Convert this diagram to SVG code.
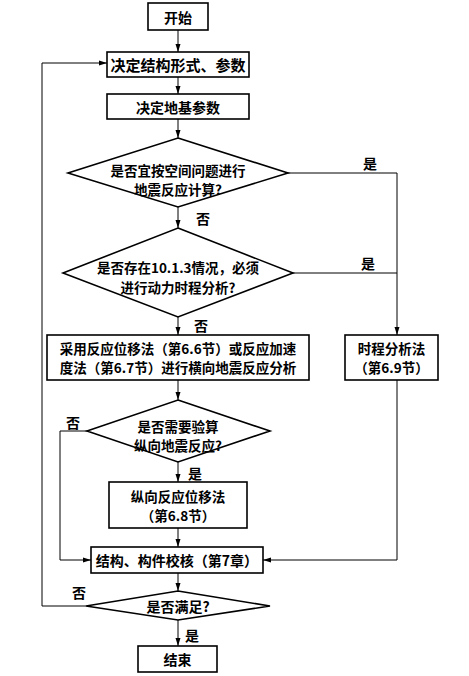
<svg xmlns="http://www.w3.org/2000/svg" width="469" height="676" viewBox="0 0 469 676">
<style>
.n{fill:#fff;stroke:#000;stroke-width:1.6}
.t{font-family:"Noto Sans CJK SC","Liberation Sans",sans-serif;font-size:14px;font-weight:bold;fill:#000;text-anchor:middle;dominant-baseline:central}
.s{font-size:13.5px}
.l{font-family:"Noto Sans CJK SC","Liberation Sans",sans-serif;font-size:14px;font-weight:bold;fill:#000;text-anchor:middle;dominant-baseline:central}
.c{fill:none;stroke:#000;stroke-width:1}
</style>
<defs>
<marker id="a" viewBox="0 0 8 6" refX="8" refY="3" markerWidth="8" markerHeight="6" markerUnits="userSpaceOnUse" orient="auto">
<path d="M0,0.5 L8,3 L0,5.5 Z" fill="#000"/>
</marker>
</defs>
<rect width="469" height="676" fill="#fff"/>
<g id="connectors">
<path class="c" d="M178,30 V52" marker-end="url(#a)"/>
<path class="c" d="M178,77 V94" marker-end="url(#a)"/>
<path class="c" d="M178,119 V138" marker-end="url(#a)"/>
<path class="c" d="M178,207 V228" marker-end="url(#a)"/>
<path class="c" d="M178,317 V335" marker-end="url(#a)"/>
<path class="c" d="M288,173 H397 V335" marker-end="url(#a)"/>
<path class="c" d="M293,273 H397"/>
<path class="c" d="M178,380 V400" marker-end="url(#a)"/>
<path class="c" d="M178,462 V482" marker-end="url(#a)"/>
<path class="c" d="M87,431 H60 V560 H91" marker-end="url(#a)"/>
<path class="c" d="M178,528 V547" marker-end="url(#a)"/>
<path class="c" d="M397,380 V560 H263" marker-end="url(#a)"/>
<path class="c" d="M178,573 V591" marker-end="url(#a)"/>
<path class="c" d="M86,606 H42 V63 H107" marker-end="url(#a)"/>
<path class="c" d="M178,620 V646" marker-end="url(#a)"/>
<text class="l" x="370" y="163">是</text>
<text class="l" x="203" y="218">否</text>
<text class="l" x="368" y="263">是</text>
<text class="l" x="201" y="325">否</text>
<text class="l" x="73" y="422">否</text>
<text class="l" x="195" y="473">是</text>
<text class="l" x="79" y="592">否</text>
<text class="l" x="192" y="635">是</text>
</g>
<g id="start"><rect class="n" x="148" y="3" width="60" height="27"/><text class="t" x="178" y="16.5">开始</text></g>
<g id="structure"><rect class="n" x="107" y="52" width="142" height="25"/><text class="t" x="178" y="64.5" style="font-size:15px">决定结构形式、参数</text></g>
<g id="ground"><rect class="n" x="107" y="94" width="142" height="25"/><text class="t" x="178" y="106.5">决定地基参数</text></g>
<g id="d1"><polygon class="n" points="178,138 288,173 178,207 68,173"/><text class="t s" x="178" y="169.5">是否宜按空间问题进行</text><text class="t s" x="178" y="188.5">地震反应计算?</text></g>
<g id="d2"><polygon class="n" points="178,228 293,273 178,317 63,273"/><text class="t s" x="178" y="267">是否存在10.1.3情况，必须</text><text class="t s" x="178" y="287">进行动力时程分析?</text></g>
<g id="lateral"><rect class="n" x="47" y="335" width="262" height="45"/><text class="t s" x="178" y="348">采用反应位移法（第6.6节）或反应加速</text><text class="t s" x="178" y="367">度法（第6.7节）进行横向地震反应分析</text></g>
<g id="timehistory"><rect class="n" x="345" y="335" width="93" height="45"/><text class="t s" x="391.5" y="348">时程分析法</text><text class="t s" x="391.5" y="367">（第6.9节）</text></g>
<g id="d3"><polygon class="n" points="178,400 270,431 178,462 87,431"/><text class="t s" x="178" y="426">是否需要验算</text><text class="t s" x="178" y="445">纵向地震反应?</text></g>
<g id="longitudinal"><rect class="n" x="109" y="482" width="138" height="46"/><text class="t s" x="178" y="495.5">纵向反应位移法</text><text class="t s" x="178" y="514.5">（第6.8节）</text></g>
<g id="check"><rect class="n" x="91" y="547" width="172" height="26"/><text class="t" x="177" y="560">结构、构件校核（第7章）</text></g>
<g id="d4"><polygon class="n" points="178,591 270,606 178,620 86,606"/><text class="t" x="178" y="606">是否满足?</text></g>
<g id="end"><rect class="n" x="138" y="646" width="79" height="26"/><text class="t" x="177.5" y="659">结束</text></g>
</svg>
